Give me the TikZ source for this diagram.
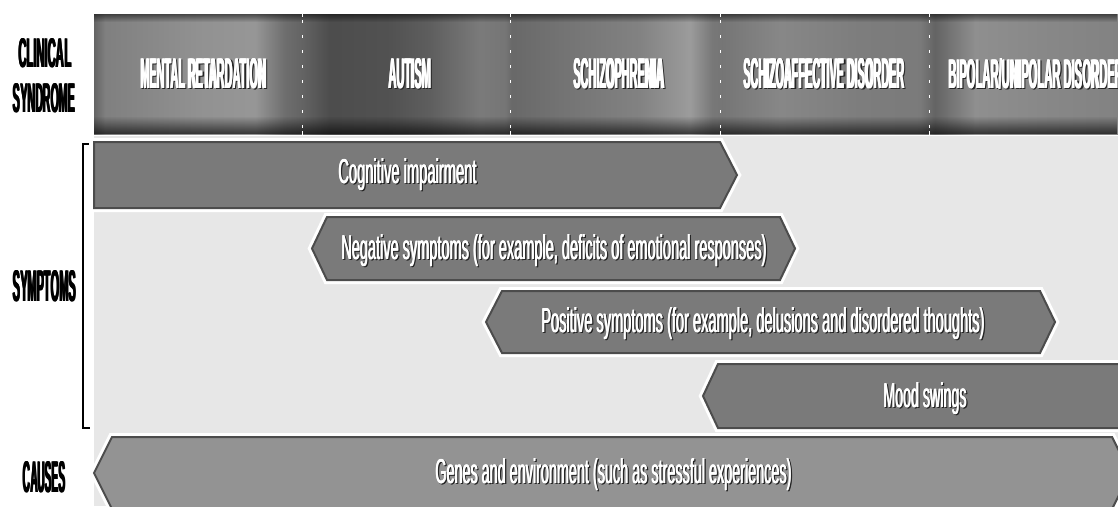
\documentclass[tikz,border=0pt]{standalone}
\usepackage{fontspec}
\setmainfont{Liberation Sans}
\usetikzlibrary{fadings}
\definecolor{lightbg}{gray}{0.905}
\definecolor{barfill}{gray}{0.48}
\definecolor{genesfill}{gray}{0.575}
\definecolor{bardark}{gray}{0.3}
\definecolor{shadowc}{gray}{0.15}
\pgfdeclarehorizontalshading{hdrshade}{100bp}{color(0bp)=(black!61); color(25bp)=(black!61); color(25.54bp)=(black!50); color(30.18bp)=(black!43); color(32.86bp)=(black!41); color(34.33bp)=(black!57); color(35.16bp)=(black!61); color(36.52bp)=(black!70); color(39.45bp)=(black!68); color(41.41bp)=(black!63); color(43.85bp)=(black!52); color(45.07bp)=(black!54); color(45.41bp)=(black!59); color(47.75bp)=(black!55); color(51.66bp)=(black!49); color(54.10bp)=(black!39); color(55.18bp)=(black!53); color(55.66bp)=(black!54); color(58.50bp)=(black!47); color(62.40bp)=(black!51); color(65.33bp)=(black!52); color(66.06bp)=(black!61); color(68.02bp)=(black!44); color(71.68bp)=(black!47); color(75bp)=(black!49); color(100bp)=(black!49)}
\newsavebox\tbox
\newcommand\fattext[4]{%
  \sbox\tbox{\resizebox{#1pt}{#2pt}{#4}}%
  \rlap{\usebox\tbox}\kern#3pt\rlap{\usebox\tbox}\kern#3pt\usebox\tbox}
\newcommand\shadowed[4]{%
  \rlap{\kern1.2pt\raisebox{-1.2pt}{\color{shadowc}\fattext{#1}{#2}{#3}{#4}}}%
  {\color{white}\fattext{#1}{#2}{#3}{#4}}}
\tikzset{
  txt/.style={anchor=base, inner sep=0pt, outer sep=0pt},
  halo/.style={draw=white, line width=8pt, line join=miter},
  barbox/.style={fill=barfill, draw=bardark, line width=2pt, line join=miter},
  divider/.style={white, line width=0.9pt, dash pattern=on 2.5pt off 12.5pt},
}
\begin{document}
\begin{tikzpicture}[x=1pt, y=-1pt]
\useasboundingbox (0,0) rectangle (1118,506);
\clip (0,0) rectangle (1118,506);
\fill[white] (0,0) rectangle (1118,506);
% light background of the lower area
\fill[lightbg] (94,136) rectangle (1118,506);
% header band
\shade[shading=hdrshade] (94,14) rectangle (1118,134);
\fill[black, opacity=0.5, path fading=south] (94,14) rectangle (1118,22);
\fill[black, opacity=0.65, path fading=north] (94,116) rectangle (1118,134);
\foreach \xx in {302,510,720,929}{
  \draw[divider] (\xx,20) -- (\xx,130);
  \draw[white, line width=0.9pt] (\xx,13) -- (\xx,17);
  \draw[white, line width=0.9pt] (\xx,131) -- (\xx,135);
}
% header texts
\node[txt] (mr) at (203.5,88) {\bfseries\shadowed{125.8}{30}{0.6}{MENTAL RETARDATION}};
\node[txt] (au) at (410,88) {\bfseries\shadowed{42.8}{30}{0.6}{AUTISM}};
\node[txt] (sc) at (619,88) {\bfseries\shadowed{90.8}{30}{0.6}{SCHIZOPHRENIA}};
\node[txt] (sa) at (824,88) {\bfseries\shadowed{160.8}{30}{0.6}{SCHIZOAFFECTIVE DISORDER}};
\node[txt] (bp) at (1036,88) {\bfseries\shadowed{174.8}{30}{0.6}{BIPOLAR/UNIPOLAR DISORDER}};
% left labels
\node[txt] (cl) at (45,67) {\bfseries\fattext{53}{29}{0.5}{CLINICAL}};
\node[txt] (sy) at (44.5,112) {\bfseries\fattext{62}{29}{0.5}{SYNDROME}};
\node[txt] (sm) at (44.7,301) {\bfseries\fattext{63}{31}{0.5}{SYMPTOMS}};
\node[txt] (ca) at (44.3,492) {\bfseries\fattext{42}{31}{0.5}{CAUSES}};
% bracket
\draw[line width=1.5pt] (88.5,144) -- (83,144) -- (83,428) -- (90,428);
% bars
\draw[halo] (94,142) -- (720,142) -- (737,175) -- (720,208) -- (94,208) -- cycle;
\draw[barbox] (94,142) -- (720,142) -- (737,175) -- (720,208) -- (94,208) -- cycle;
\draw[halo] (312,248.5) -- (327,217) -- (780,217) -- (795,248.5) -- (780,280) -- (327,280) -- cycle;
\draw[barbox] (312,248.5) -- (327,217) -- (780,217) -- (795,248.5) -- (780,280) -- (327,280) -- cycle;
\draw[halo] (486,322) -- (502,291) -- (1040,291) -- (1055,322) -- (1040,353) -- (502,353) -- cycle;
\draw[barbox] (486,322) -- (502,291) -- (1040,291) -- (1055,322) -- (1040,353) -- (502,353) -- cycle;
\draw[halo] (703,396) -- (718,364) -- (1130,364) -- (1130,428) -- (718,428) -- cycle;
\draw[barbox] (703,396) -- (718,364) -- (1130,364) -- (1130,428) -- (718,428) -- cycle;
\draw[halo] (94,473) -- (112,437) -- (1112,437) -- (1130,473) -- (1112,509) -- (112,509) -- cycle;
\draw[barbox, fill=genesfill] (94,473) -- (112,437) -- (1112,437) -- (1130,473) -- (1112,509) -- (112,509) -- cycle;
% bar texts
\node[txt] (cog) at (407.5,183) {\shadowed{138.2}{25}{0.4}{Cognitive impairment}};
\node[txt] (neg) at (554,259) {\shadowed{425.2}{25}{0.4}{Negative symptoms (for example, deficits of emotional responses)}};
\node[txt] (pos) at (763,332) {\shadowed{443.2}{25}{0.4}{Positive symptoms (for example, delusions and disordered thoughts)}};
\node[txt] (mood) at (925,407) {\shadowed{83.2}{25}{0.4}{Mood swings}};
\node[txt] (gen) at (613.5,483) {\shadowed{356.2}{25}{0.4}{Genes and environment (such as stressful experiences)}};
\end{tikzpicture}
\end{document}
